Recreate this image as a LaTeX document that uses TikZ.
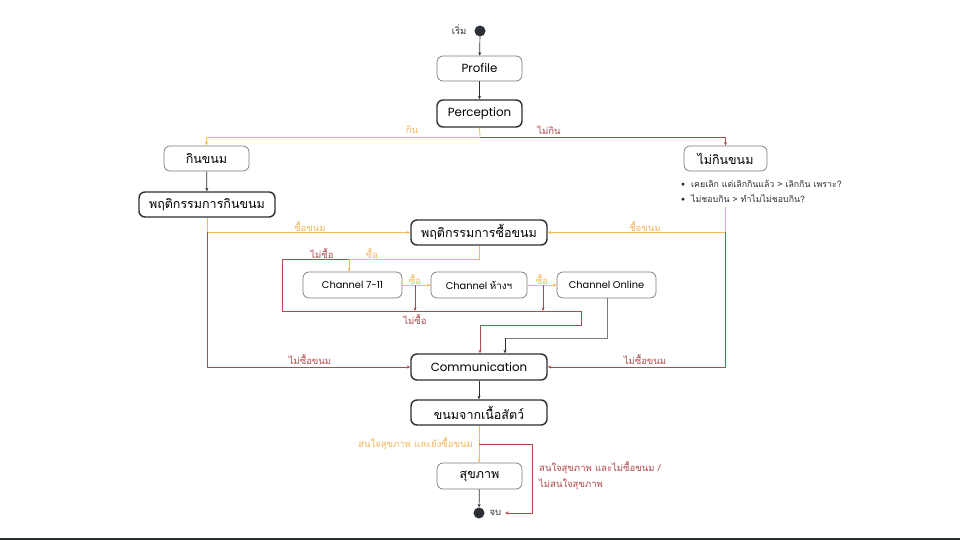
\documentclass[tikz,border=0pt]{standalone}
\usepackage{fontspec}
\setmainfont{Poppins}
\newfontfamily\thai[Script=Thai]{Loma}
\usetikzlibrary{arrows.meta,calc}
\definecolor{orgc}{HTML}{F4B75A}
\definecolor{redc}{HTML}{B04A4C}
\definecolor{dark}{HTML}{2B2F36}
\definecolor{grayb}{HTML}{7A7A7A}
\tikzset{
  box/.style={rounded corners=6pt, minimum height=25pt, inner sep=2pt, align=center, font=\fontsize{11.8}{13}\selectfont},
  thaibox/.style={font=\thai\fontsize{12.5}{14}\selectfont},
  thinbox/.style={box, draw=grayb, line width=0.7pt},
  thickbox/.style={box, draw=dark, line width=1.4pt},
  chbox/.style={thinbox, font=\fontsize{9.8}{11}\selectfont, minimum height=26pt},
  tip/.style={-{Stealth[length=3.5pt,width=3pt]}},
  blk/.style={tip, draw=dark, line width=0.7pt},
  oline/.style={draw=orgc, line width=0.8pt},
  rline/.style={draw=redc, line width=0.8pt},
  gline/.style={draw=grayb, line width=0.8pt},
  olab/.style={text=orgc, font=\thai\fontsize{9.5}{11}\selectfont, inner sep=1pt},
  rlab/.style={text=redc, font=\thai\fontsize{9.5}{11}\selectfont, inner sep=1pt},
  dot/.style={circle, fill=dark, inner sep=0pt, minimum size=11pt},
}
\begin{document}
\begin{tikzpicture}[x=1pt,y=-1pt]
\useasboundingbox (0,0) rectangle (960,540);
\fill[white] (0,0) rectangle (960,540);
\fill[dark] (0,538) rectangle (960,540);

% nodes
\node[dot] (start) at (480,31) {};
\node[font=\thai\fontsize{9.5}{11}\selectfont, anchor=east, text=dark] (startl) at (470,30) {เริ่ม};
\node[thinbox, minimum width=85pt] (profile) at (479.5,68.5) {Profile};
\node[thickbox, minimum width=85pt, minimum height=27pt] (percep) at (479.5,113.5) {Perception};
\node[thinbox, thaibox, minimum width=85pt] (kin) at (206.5,158.5) {กินขนม};
\node[thinbox, thaibox, minimum width=83pt] (maikin) at (725.5,158.5) {ไม่กินขนม};
\node[anchor=west, align=left, text=dark, font=\thai\fontsize{8.8}{15}\selectfont, inner sep=0pt] (bul) at (681,191.5) {•\ \ เคยเลิก แต่เลิกกินแล้ว > เลิกกิน เพราะ?\\ •\ \ ไม่ชอบกิน > ทำไมไม่ชอบกิน?};
\node[thickbox, thaibox, minimum width=136pt] (beh) at (207,204.5) {พฤติกรรมการกินขนม};
\node[thickbox, thaibox, minimum width=136pt] (buy) at (479,232.5) {พฤติกรรมการซื้อขนม};
\node[chbox, minimum width=99pt] (c711) at (352.5,285) {Channel 7-11};
\node[chbox, minimum width=96pt] (hang) at (479,285) {Channel {\thai ห้างฯ}};
\node[chbox, minimum width=99pt] (online) at (606.5,285) {Channel Online};
\node[thickbox, minimum width=136pt, minimum height=26pt] (comm) at (479,367) {Communication};
\node[thickbox, thaibox, minimum width=136pt] (meat) at (479,412.5) {ขนมจากเนื้อสัตว์};
\node[thinbox, thaibox, minimum width=85pt, minimum height=26pt] (health) at (479.5,476) {สุขภาพ};
\node[dot] (end) at (479,513) {};
\node[font=\thai\fontsize{9.5}{11}\selectfont, anchor=west, text=dark] (endl) at (486,513) {จบ};

% coordinates
\coordinate (sp) at (480,137);
\coordinate (b1) at (207,232);
\coordinate (m0) at (725,207);
\coordinate (m1) at (725,232);
\coordinate (y0) at (479,259);
\coordinate (y1) at (349,259);
\coordinate (r1) at (282,259);
\coordinate (r2) at (282,311);
\coordinate (r3) at (581,311);
\coordinate (r4) at (581,325);
\coordinate (r5) at (480,325);
\coordinate (a1) at (415,285);
\coordinate (a2) at (415,311);
\coordinate (a3) at (543,285);
\coordinate (a4) at (543,311);
\coordinate (g1) at (607,338);
\coordinate (g2) at (505,338);
\coordinate (h1) at (479,444);
\coordinate (h2) at (532,444);
\coordinate (h3) at (532,513);
\coordinate (h4) at (505,513);

% connectors
\draw[blk] (start) -- (profile);
\draw[blk] (profile) -- (percep);
\draw[oline] (percep.south) -- (sp);
\draw[oline, tip] (sp) -| (kin.north);
\draw[rline, tip] (sp) -| (maikin.north);
\node[olab] (lkin) at (412,130) {กิน};
\node[rlab] (lmaikin) at (549,130) {ไม่กิน};
\draw[blk] (kin) -- (beh);

\draw[oline, tip] (beh.south) |- (buy.west);
\draw[rline, tip] (b1) |- (comm.west);
\node[olab] (lb1) at (310,226) {ซื้อขนม};
\node[rlab] (lb2) at (310,359) {ไม่ซื้อขนม};

\draw[oline, tip] (m0) |- (buy.east);
\draw[rline, tip] (m1) |- (comm.east);
\node[olab] (lm1) at (645,226) {ซื้อขนม};
\node[rlab] (lm2) at (645,359) {ไม่ซื้อขนม};

\draw[oline] (buy.south -| y0) -- (y0) -- (y1);
\draw[oline, tip] (y1) -- (y1 |- c711.north);
\draw[rline, tip] (y1) -- (r1) -- (r2) -- (r3) -- (r4) -- (r5) -- (r5 |- comm.north);
\node[rlab] (ln1) at (322,253) {ไม่ซื้อ};
\node[olab] (ly1) at (372,253) {ซื้อ};

\draw[oline, tip] (c711.east) -- (hang.west);
\draw[rline, tip] (a1) -- (a2);
\node[olab] (ly2) at (415,279) {ซื้อ};
\node[rlab] (ln2) at (415,319) {ไม่ซื้อ};
\draw[oline, tip] (hang.east) -- (online.west);
\draw[rline, tip] (a3) -- (a4);
\node[olab] (ly3) at (542,279) {ซื้อ};

\draw[gline] (online.south -| g1) -- (g1) -- (g2);
\draw[gline, tip, draw=dark] (g2) -- (g2 |- comm.north);

\draw[blk] (comm) -- (meat);
\draw[oline, tip] (meat.south -| h1) -- (h1 |- health.north);
\node[olab, anchor=east] (lh1) at (474,444) {สนใจสุขภาพ และยังซื้อขนม};
\draw[rline, tip] (h1) -- (h2) -- (h3) -- (h4);
\node[rlab, anchor=west, align=left, font=\thai\fontsize{9.5}{16}\selectfont] (lh2) at (538,476) {สนใจสุขภาพ และไม่ซื้อขนม /\\ไม่สนใจสุขภาพ};
\draw[blk] (health) -- (end);
\end{tikzpicture}
\end{document}
